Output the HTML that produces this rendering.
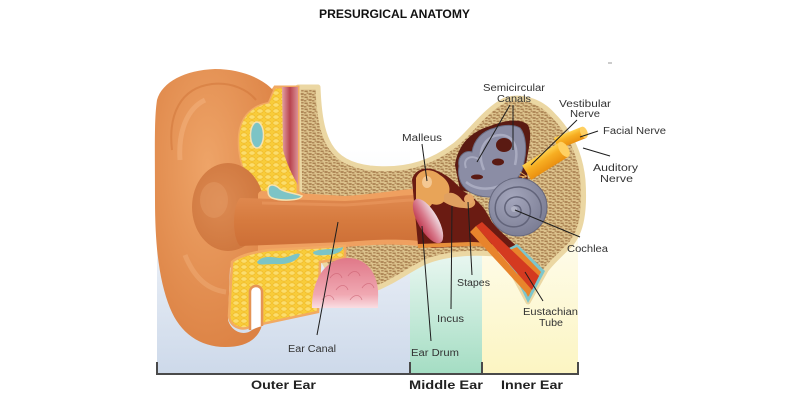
<!DOCTYPE html>
<html><head><meta charset="utf-8"><style>
html,body{margin:0;padding:0;background:#fff;}
svg{display:block;}
text{font-family:"Liberation Sans",Arial,sans-serif;fill:#333;}
</style></head><body>
<svg width="789" height="402" viewBox="0 0 789 402" xmlns="http://www.w3.org/2000/svg">
<defs>
<linearGradient id="gBlue" x1="0" y1="150" x2="0" y2="374" gradientUnits="userSpaceOnUse"><stop offset="0" stop-color="#fff"/><stop offset="1" stop-color="#cdd9ea"/></linearGradient>
<linearGradient id="gGreen" x1="0" y1="235" x2="0" y2="374" gradientUnits="userSpaceOnUse"><stop offset="0" stop-color="#f4fbf8"/><stop offset="1" stop-color="#a4ddc3"/></linearGradient>
<linearGradient id="gYel" x1="0" y1="170" x2="0" y2="374" gradientUnits="userSpaceOnUse"><stop offset="0" stop-color="#fff"/><stop offset="1" stop-color="#fcf5c2"/></linearGradient>
<pattern id="sp" width="8" height="6" patternUnits="userSpaceOnUse">
<rect width="8" height="6" fill="#dcc28c"/>
<path d="M0.5,0.6h3.2v1.3h-3.2z M4.5,3.3h3.2v1.4h-3.2z M0,4.2h2.4v1.2h-2.4z M5.2,0.2h2.4v1.2h-2.4z M2.6,2.5h1.6v1.1h-1.6z" fill="#a27648"/>
</pattern>
<pattern id="ye" width="8" height="6" patternUnits="userSpaceOnUse">
<rect width="8" height="6" fill="#f8cc3a"/>
<ellipse cx="4" cy="3" rx="3.2" ry="2.2" fill="#fbdd6c" stroke="#efb623" stroke-width="0.6"/>
</pattern>
<radialGradient id="gEar" cx="0.45" cy="0.35" r="0.7"><stop offset="0" stop-color="#eea468"/><stop offset="1" stop-color="#dc8244"/></radialGradient>
<radialGradient id="gConcha" cx="0.4" cy="0.45" r="0.6"><stop offset="0" stop-color="#dc8a52"/><stop offset="1" stop-color="#cf773e"/></radialGradient>
<linearGradient id="gCanal" x1="0" y1="195" x2="0" y2="248" gradientUnits="userSpaceOnUse"><stop offset="0" stop-color="#e08a50"/><stop offset="0.5" stop-color="#d67a3e"/><stop offset="1" stop-color="#cc6e36"/></linearGradient>
<linearGradient id="gMus" x1="282" y1="0" x2="298" y2="0" gradientUnits="userSpaceOnUse"><stop offset="0" stop-color="#e3a2a4"/><stop offset="0.5" stop-color="#b8434e"/><stop offset="1" stop-color="#db9196"/></linearGradient>
<linearGradient id="gGland" x1="0" y1="258" x2="0" y2="310" gradientUnits="userSpaceOnUse"><stop offset="0" stop-color="#e07888"/><stop offset="0.7" stop-color="#f0a8b2"/><stop offset="1" stop-color="#fbe6ea"/></linearGradient>
<linearGradient id="gDrum" x1="0" y1="0" x2="1" y2="0"><stop offset="0" stop-color="#c03c52"/><stop offset="0.45" stop-color="#d87a8c"/><stop offset="1" stop-color="#efdce2"/></linearGradient>
<radialGradient id="gCoch" cx="0.4" cy="0.35" r="0.7"><stop offset="0" stop-color="#a4a6bc"/><stop offset="1" stop-color="#7a7c93"/></radialGradient>
<linearGradient id="gNerve" x1="0" y1="0" x2="0" y2="1"><stop offset="0" stop-color="#ffd24e"/><stop offset="0.4" stop-color="#f7ae22"/><stop offset="1" stop-color="#ea9010"/></linearGradient>
</defs>

<!-- title -->
<text x="319" y="18" font-size="12" font-weight="bold" textLength="151" lengthAdjust="spacingAndGlyphs" style="fill:#111">PRESURGICAL ANATOMY</text>
<line x1="608" y1="63" x2="612" y2="63" stroke="#999" stroke-width="1"/>

<!-- panels -->
<rect x="157" y="150" width="253" height="224" fill="url(#gBlue)"/>
<rect x="410" y="235" width="72" height="139" fill="url(#gGreen)"/>
<rect x="482" y="170" width="96" height="204" fill="url(#gYel)"/>

<!-- bone -->
<path d="M298,87 L318,87 C320,140 330,163 370,168 C410,172 435,160 455,145 C470,133 485,110 505,100 C520,95 540,100 553,115 C568,130 580,150 583,180 C585,210 582,232 570,245 C560,255 552,262 546,270 L528,302 L503,255 C480,252 450,252 425,262 C405,272 392,283 372,290 L340,290 L320,255 L300,205 Z" fill="url(#sp)" stroke="#ebd7a3" stroke-width="5" stroke-linejoin="round"/>

<!-- upper yellow cartilage -->
<path d="M268,202 C245,186 236,160 238,135 C240,115 252,105 268,102 L273,90 L275,87 L298,87 L298,192 C310,200 325,202 340,203 Z" fill="url(#ye)" stroke="#f2aa62" stroke-width="3"/>
<!-- muscle -->
<path d="M282,87 L298,87 L298,185 C292,175 286,162 283,150 Z" fill="url(#gMus)"/>

<!-- auricle -->
<path d="M157,100 C162,82 185,70 215,69 C240,69 262,78 273,90 L268,102 C252,105 240,115 238,135 C236,160 245,185 268,202 L268,250 C250,252 235,258 230,268 L228,320 C232,333 245,336 252,330 L262,325 C258,340 245,347 225,347 C200,347 180,333 170,308 C160,283 155,250 155,200 C155,150 154,120 157,100 Z" fill="url(#gEar)"/>
<!-- helix ridge -->
<path d="M172,150 C168,115 180,88 212,84 C232,82 248,90 256,100" fill="none" stroke="#cf7338" stroke-width="2" opacity="0.5"/>
<path d="M180,160 C178,130 188,108 205,100" fill="none" stroke="#f3b480" stroke-width="5" opacity="0.5"/>
<path d="M185,255 C195,280 210,290 226,292" fill="none" stroke="#f3b480" stroke-width="5" opacity="0.4"/>
<!-- concha -->
<ellipse cx="228" cy="207" rx="36" ry="44" fill="url(#gConcha)"/>
<ellipse cx="214" cy="200" rx="14" ry="18" fill="#e39a64" opacity="0.5"/>

<!-- canal lining + canal -->
<path d="M262,195 L345,200 C380,198 400,193 415,193 L420,242 C400,240 380,240 345,243 L262,250 Z" fill="#efa060" stroke="#efa060" stroke-width="8" stroke-linejoin="round"/>
<path d="M240,198 L345,201 C380,199 400,195 415,195 L420,241 C400,239 380,239 345,242 L240,246 C232,238 232,206 240,198 Z" fill="url(#gCanal)"/>
<path d="M262,203 L345,205 C380,203 400,200 414,200" fill="none" stroke="#e8965c" stroke-width="3" opacity="0.7"/>

<!-- lower yellow -->
<path d="M232,262 C240,255 255,252 270,250 L345,246 L345,258 L320,262 L318,312 L262,324 L262,292 C262,284 250,284 250,292 L250,327 C240,331 230,326 229,316 Z" fill="url(#ye)" stroke="#f2aa62" stroke-width="2.5"/>
<path d="M250,330 L250,292 C250,284 262,284 262,292 L262,326" fill="#fff" stroke="#e59455" stroke-width="2.5"/>
<!-- gland -->
<path d="M312,308 C312,276 328,258 348,258 C368,258 380,276 378,300 L378,308 Z" fill="url(#gGland)"/>
<path d="M322,300 c4,-6 10,-6 12,0 M336,290 c4,-6 10,-6 12,0 M350,300 c4,-6 10,-6 12,0 M330,278 c4,-6 10,-6 12,0 M348,276 c4,-6 10,-6 12,0 M362,288 c4,-6 10,-6 12,0" fill="none" stroke="#c85a6c" stroke-width="0.8" opacity="0.6"/>

<!-- teal spots -->
<ellipse cx="257" cy="135" rx="6.5" ry="13" fill="#7cc4c6" stroke="#f6e2b0" stroke-width="1.5"/>
<path d="M268,190 C268,183 275,184 280,189 C286,193 295,193 302,196 C300,201 280,201 272,198 C268,196 268,193 268,190 Z" fill="#7cc4c6" stroke="#f6e2b0" stroke-width="1.5"/>
<path d="M257,262 C262,255 272,257 280,258 C290,258 295,252 300,254 C298,262 285,265 275,264 C265,264 258,266 257,262 Z" fill="#7cc4c6"/>
<path d="M313,252 C320,248 335,250 343,247 C343,252 335,255 325,255 C318,256 313,255 313,252 Z" fill="#7cc4c6"/>

<!-- middle ear cavity -->
<path d="M412,180 C414,170 425,166 435,170 C448,175 455,182 462,190 C470,196 478,200 485,210 L492,222 C500,232 510,240 518,247 L508,252 C495,248 485,246 470,246 L432,248 L418,245 Z" fill="#6a1b12"/>
<!-- orange lining along cavity bottom into tube -->
<path d="M418,246 L470,244 C485,244 495,246 505,252" fill="none" stroke="#e8903c" stroke-width="4"/>
<!-- eustachian tube -->
<path d="M503,251 L517,244 L545,271 L528,303 Z" fill="#7cc6cc"/>
<path d="M507,251 L517,247 L541,272 L528,297 Z" fill="#e8842c"/>
<path d="M476,226 L482,222 L539,276 L532,290 Z" fill="#d43a20"/>
<path d="M470,232 L476,226 L531,290 L529,296 Z" fill="#e8842c"/>

<!-- ossicles -->
<path d="M416,178 C420,168 432,168 440,175 C448,180 452,188 448,196 C444,204 438,206 432,204 C428,210 420,212 416,205 Z" fill="#e8a458"/>
<ellipse cx="427" cy="182" rx="5" ry="6" fill="#f4c893"/>
<path d="M444,195 C450,190 458,194 462,200 C466,205 470,200 474,200 C478,204 472,210 464,208 C458,208 450,206 444,202 Z" fill="#e0a060"/>
<circle cx="469" cy="199" r="5" fill="#e6a668"/>
<!-- eardrum -->
<ellipse cx="428" cy="221" rx="10" ry="25" transform="rotate(-30 428 221)" fill="url(#gDrum)"/>

<!-- inner ear cavity -->
<path d="M455,165 C458,145 470,132 490,126 C505,120 520,118 528,125 C533,135 528,150 526,165 L528,180 L495,198 L460,190 Z" fill="#5a1a12"/>
<!-- labyrinth -->
<path d="M459,166 C457,156 465,150 472,152 C474,140 482,131 495,128 C505,124 515,125 520,128 C526,135 527,150 524,162 C523,170 520,176 515,180 L497,196 C485,199 470,195 463,186 C458,179 458,172 459,166 Z" fill="#8b8da5" stroke="#6a6c82" stroke-width="1"/>
<ellipse cx="504" cy="145" rx="8" ry="7" fill="#5a1a12"/>
<ellipse cx="498" cy="162" rx="6" ry="3.5" fill="#5a1a12"/>
<ellipse cx="477" cy="177" rx="6" ry="2.5" fill="#5a1a12"/>
<path d="M484,170 C476,152 484,136 500,135 C514,135 519,148 515,165" fill="none" stroke="#a9abc0" stroke-width="2.5"/>
<path d="M466,182 C478,192 498,190 508,180" fill="none" stroke="#a9abc0" stroke-width="2.5"/>
<path d="M466,168 C462,158 472,154 480,160" fill="none" stroke="#a9abc0" stroke-width="2"/>
<!-- cochlea -->
<circle cx="518" cy="207" r="29" fill="url(#gCoch)" stroke="#66687e" stroke-width="1"/>
<path d="M512,210 C512,204 520,204 521,210 C522,217 512,220 507,214 C501,206 508,196 518,197 C530,198 534,212 527,221 C519,231 500,228 496,214 C492,198 505,186 520,187 C536,189 545,202 540,218" fill="none" stroke="#62647a" stroke-width="1.5"/>
<circle cx="514" cy="209" r="3" fill="#b0b2c4"/>
<!-- nerves -->
<g transform="rotate(-22 570 138)">
<rect x="555" y="132" width="30" height="12" fill="url(#gNerve)"/>
<ellipse cx="585" cy="138" rx="3.5" ry="6" fill="#ffd062"/>
</g>
<g transform="rotate(-32 547 160)">
<rect x="523" y="151.5" width="44" height="17" fill="url(#gNerve)"/>
<ellipse cx="567" cy="160" rx="4.5" ry="8.5" fill="#ffd062"/>
</g>
<path d="M520,172 l6,4 M522,178 l5,-2 M519,176 l7,1" stroke="#e8b060" stroke-width="1"/>

<!-- leader lines -->
<g stroke="#1e1e1e" stroke-width="1" fill="none">
<line x1="422" y1="144" x2="427" y2="181"/>
<line x1="510" y1="105" x2="477" y2="162"/>
<line x1="513" y1="105" x2="513" y2="150"/>
<line x1="577" y1="120" x2="531" y2="165"/>
<line x1="598" y1="131" x2="580" y2="137"/>
<line x1="610" y1="156" x2="583" y2="148"/>
<line x1="580" y1="237" x2="515" y2="210"/>
<line x1="543" y1="301" x2="525" y2="272"/>
<line x1="472" y1="275" x2="468" y2="202"/>
<line x1="451" y1="309" x2="452" y2="206"/>
<line x1="431" y1="341" x2="422" y2="226"/>
<line x1="317" y1="335" x2="338" y2="222"/>
</g>

<!-- labels -->
<g font-size="10">
<text x="402" y="141" textLength="40" lengthAdjust="spacingAndGlyphs">Malleus</text>
<text x="483" y="91" textLength="62" lengthAdjust="spacingAndGlyphs">Semicircular</text>
<text x="497" y="102" textLength="34" lengthAdjust="spacingAndGlyphs">Canals</text>
<text x="559" y="107" textLength="52" lengthAdjust="spacingAndGlyphs">Vestibular</text>
<text x="570" y="117" textLength="30" lengthAdjust="spacingAndGlyphs">Nerve</text>
<text x="603" y="134" textLength="63" lengthAdjust="spacingAndGlyphs">Facial Nerve</text>
<text x="593" y="171" textLength="45" lengthAdjust="spacingAndGlyphs">Auditory</text>
<text x="600" y="182" textLength="33" lengthAdjust="spacingAndGlyphs">Nerve</text>
<text x="567" y="252" textLength="41" lengthAdjust="spacingAndGlyphs">Cochlea</text>
<text x="523" y="315" textLength="55" lengthAdjust="spacingAndGlyphs">Eustachian</text>
<text x="539" y="326" textLength="24" lengthAdjust="spacingAndGlyphs">Tube</text>
<text x="457" y="286" textLength="33" lengthAdjust="spacingAndGlyphs">Stapes</text>
<text x="437" y="322" textLength="27" lengthAdjust="spacingAndGlyphs">Incus</text>
<text x="411" y="356" textLength="48" lengthAdjust="spacingAndGlyphs">Ear Drum</text>
<text x="288" y="352" textLength="48" lengthAdjust="spacingAndGlyphs">Ear Canal</text>
</g>

<!-- bracket -->
<path d="M157,362 L157,374 L578,374 L578,362 M410,362 L410,374 M482,362 L482,374" fill="none" stroke="#4a4a4a" stroke-width="2"/>
<g font-size="11.5" font-weight="bold">
<text x="251" y="389" textLength="65" lengthAdjust="spacingAndGlyphs" style="fill:#222">Outer Ear</text>
<text x="409" y="389" textLength="74" lengthAdjust="spacingAndGlyphs" style="fill:#222">Middle Ear</text>
<text x="501" y="389" textLength="62" lengthAdjust="spacingAndGlyphs" style="fill:#222">Inner Ear</text>
</g>
</svg>
</body></html>
